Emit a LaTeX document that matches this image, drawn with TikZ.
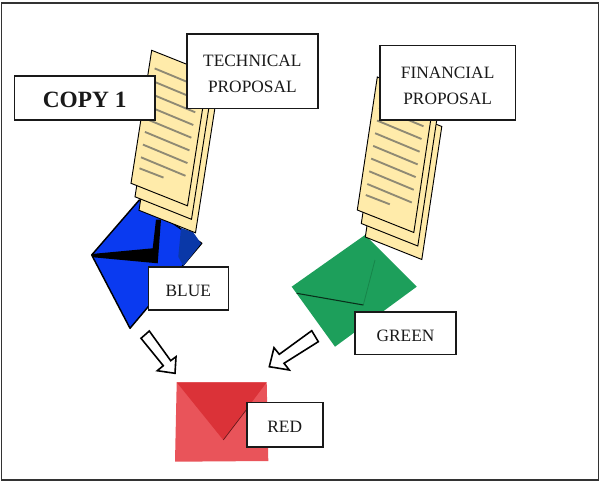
\documentclass[tikz,border=0pt]{standalone}
\usepackage{fontspec}
\setmainfont{Liberation Serif}
\definecolor{paper}{HTML}{FFEBAA}
\definecolor{rule}{HTML}{8F8A74}
\definecolor{blueenv}{HTML}{0A3AF0}
\definecolor{bluedark}{HTML}{0A38A8}
\definecolor{greenenv}{HTML}{1D9F5B}
\definecolor{greendark}{HTML}{17854A}
\definecolor{redenv}{HTML}{E9545A}
\definecolor{redflap}{HTML}{DB3238}
\tikzset{
  label box/.style={draw=black!90,line width=1.2pt,fill=white,inner sep=0pt,align=center,text=black!90,font=\fontsize{13}{19.5}\selectfont},
  sheet/.style={draw=black,line width=0.7pt,fill=paper,line join=miter},
  textline/.style={draw=rule,line width=1.4pt},
  block arrow/.style={draw=black,line width=1.2pt,fill=white,line join=miter},
}
\newcommand{\papers}[3]{% #1,#2 bottom-left of top sheet; #3 dx of left edge
  \foreach \o/\p in {8/27,4/13.5,0/0}{
    \draw[sheet] (#1+\o,#2+\p) -- ++(#3,-133) -- ++(56.5,22.5) -- ++(-#3,133) -- cycle;
  }
  \foreach \i in {1,...,8}{
    \draw[textline] (#1+10+\i*1.95-1.95,#2-26-\i*12.7+12.7) -- ++(44.5,18.5);
  }
  \draw[textline] (#1+8.5,#2-15) -- ++(24,9.3);
}
\newcommand{\labelbox}[6]{% name, x1, y1, x2, y2, text
  \node[label box,minimum width={(#4-#2)*0.75pt},minimum height={(#5-#3)*0.75pt}] (#1) at ({(#2+#4)/2},{(#3+#5)/2}) {#6};
}
\newcommand{\lowered}[1]{\rule{0pt}{#1}}
\begin{document}
\begin{tikzpicture}[x=0.75pt,y=-0.75pt]
\useasboundingbox (0,0) rectangle (599,481);
\fill[white] (0,0) rectangle (599,481);
\draw[line width=1pt,draw=black!80] (1.2,3) rectangle (598.3,480);

% blue envelope
\draw[fill=blueenv,draw=black,line width=1.1pt,line join=round] (91.7,255) -- (139.3,200) -- (201.7,243.3) -- (130,328.3) -- cycle;
\fill[bluedark] (201,243.5) -- (193,232) -- (181,228) -- (178.3,256.7) -- (183.3,266) -- cycle;
\fill[black] (91.7,254) -- (152.7,248.3) -- (156,219.5) -- (161,219.5) -- (157.7,263.3) -- (93.3,257.3) -- cycle;

% green envelope
\fill[greenenv] (291.7,286.7) -- (365,235) -- (416.7,286.7) -- (335,346.7) -- cycle;
\draw[greendark,line width=0.6pt] (363.3,305) -- (375,260);
\draw[black!70!greenenv,line width=0.8pt] (296.7,293.3) -- (363.3,305);

% red envelope
\fill[redenv] (176.7,382.3) -- (266.7,382.3) -- (268.3,461) -- (175,461.7) -- cycle;
\fill[redflap] (176.7,382.3) -- (266.7,382.3) -- (223.3,440) -- cycle;
\draw[black!55!redflap,line width=0.5pt] (223.3,440) -- (250,405);

% papers
\papers{131}{183.3}{20.7}
\papers{357.3}{210}{20}

% label boxes
\labelbox{tech}{186.7}{34.3}{318}{108.7}{\lowered{12.4pt}TECHNICAL\\PROPOSAL}
\labelbox{copy}{14.3}{76.3}{155}{120}{\lowered{14.5pt}\fontsize{17.5}{20}\selectfont\bfseries COPY 1}
\labelbox{fin}{380}{45.7}{515.3}{120.3}{\lowered{12.4pt}FINANCIAL\\PROPOSAL}
\labelbox{blue}{148.3}{266.7}{228.3}{310}{\lowered{12.4pt}BLUE}
\labelbox{green}{355}{311.7}{456}{354.3}{\lowered{12.4pt}GREEN}
\labelbox{red}{246.7}{402.3}{322.7}{447}{\lowered{12.4pt}RED}

% block arrows
\draw[block arrow] (149.3,331) -- (170.7,360.7) -- (176,356.7) -- (175,373.3) -- (157.3,370.7) -- (163.3,365.7) -- (141,338.3) -- cycle;
\draw[block arrow] (311.7,330.7) -- (318.3,341.7) -- (284,363.3) -- (289.3,370) -- (269.3,366.7) -- (274,347.7) -- (279.3,354.3) -- cycle;
\end{tikzpicture}
\end{document}
